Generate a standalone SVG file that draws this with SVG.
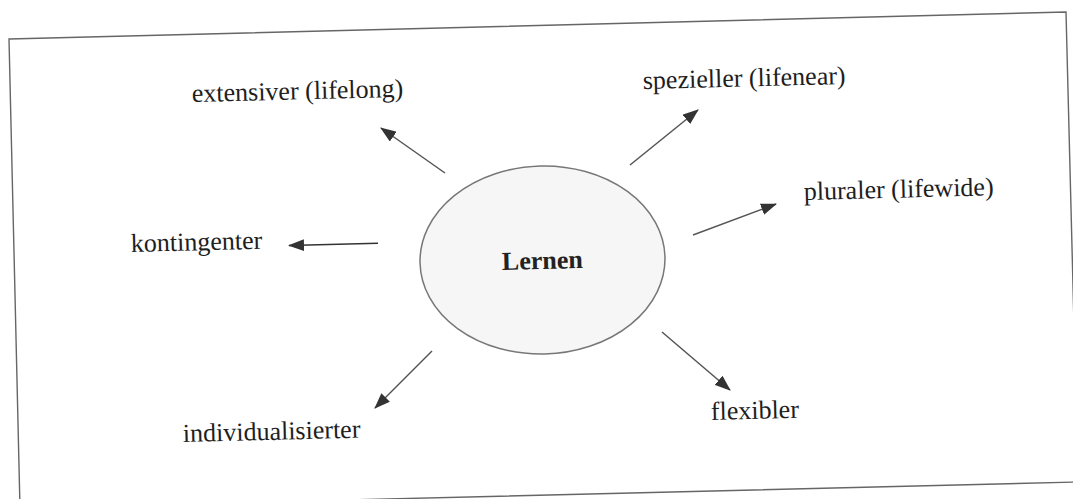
<svg xmlns="http://www.w3.org/2000/svg" width="1073" height="499" viewBox="0 0 1073 499">
  <defs>
    <marker id="head" viewBox="0 0 16 12" refX="15" refY="6" markerWidth="16" markerHeight="12" markerUnits="userSpaceOnUse" orient="auto">
      <path d="M0,0 L16,6 L0,12 Z" fill="#333"/>
    </marker>
    <style>
      .frame { fill: none; stroke: #666; stroke-width: 1.4; }
      .label { font-family: "Liberation Serif", "Times New Roman", serif; font-size: 26px; fill: #1e1e1e; }
      .core { fill: #f6f6f6; stroke: #777; stroke-width: 1.5; }
      .core-label { font-family: "Liberation Serif", "Times New Roman", serif; font-size: 26px; font-weight: bold; fill: #222; text-anchor: middle; }
      .link { stroke: #555; stroke-width: 1.5; fill: none; }
      .link-dark { stroke: #333; stroke-width: 1.5; fill: none; }
    </style>
  </defs>
  <rect width="1073" height="499" fill="#ffffff"/>

  <!-- outer frame, slightly tilted -->
  <polygon class="frame" points="9,39 1066,12 1078,482 20,508"/>

  <g id="lernen">
    <ellipse class="core" cx="542.5" cy="260" rx="122.5" ry="94" transform="rotate(-1.4 542.5 260)"/>
    <text class="core-label" x="542.5" y="269" transform="rotate(-1.4 542.5 269)">Lernen</text>
  </g>

  <g id="extensiver">
    <text class="label" x="192" y="102" transform="rotate(-1.4 192 102)">extensiver (lifelong)</text>
  </g>
  <g id="spezieller">
    <text class="label" x="643" y="89" transform="rotate(-1.4 643 89)">spezieller (lifenear)</text>
  </g>
  <g id="pluraler">
    <text class="label" x="804" y="200" transform="rotate(-1.4 804 200)">pluraler (lifewide)</text>
  </g>
  <g id="kontingenter">
    <text class="label" x="131" y="252" transform="rotate(-1.4 131 252)">kontingenter</text>
  </g>
  <g id="individualisierter">
    <text class="label" x="183" y="442" transform="rotate(-1.4 183 442)">individualisierter</text>
  </g>
  <g id="flexibler">
    <text class="label" x="711" y="420" transform="rotate(-1.4 711 420)">flexibler</text>
  </g>

  <g id="connectors">
    <line class="link" x1="445" y1="173" x2="381" y2="128" marker-end="url(#head)"/>
    <line class="link" x1="630" y1="165" x2="698" y2="110" marker-end="url(#head)"/>
    <line class="link" x1="693" y1="235" x2="776" y2="204" marker-end="url(#head)"/>
    <line class="link-dark" x1="378" y1="243.3" x2="289" y2="245.5" marker-end="url(#head)"/>
    <line class="link" x1="432" y1="351" x2="375" y2="408" marker-end="url(#head)"/>
    <line class="link" x1="662" y1="332" x2="730" y2="390" marker-end="url(#head)"/>
  </g>
</svg>
